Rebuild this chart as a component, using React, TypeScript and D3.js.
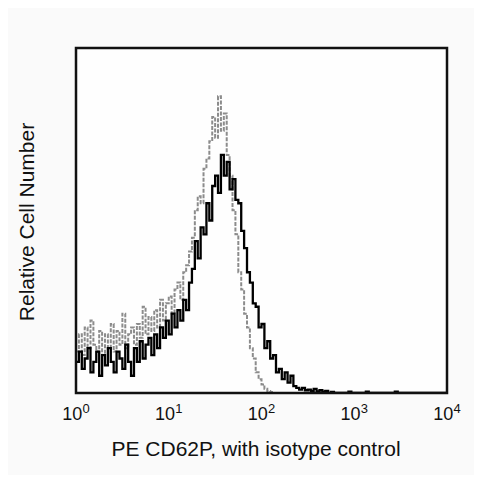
import * as d3 from "d3";

// log-spaced channels across 4 decades, counts
const CHANNELS = 128;
const DECADES = [0, 1, 2, 3, 4];

const stained = [
  9, 12, 7, 10, 13, 6, 9, 12, 5, 11, 8, 13, 9, 6, 12, 10, 7, 14, 9, 5,
  13, 9, 15, 10, 14, 16, 11, 17, 13, 19, 16, 21, 17, 23, 19, 24, 21, 27, 24, 32,
  36, 44, 39, 48, 46, 55, 50, 60, 63, 58, 69, 63, 67, 59, 62, 56, 55, 47, 42, 35,
  32, 26, 25, 19, 20, 13, 15, 10, 11, 6, 7, 4, 6, 3, 5, 2, 1.5, 1, 1.5, 0.8,
  1, 0.6, 1.2, 0.5, 0.8, 0.4, 0.6, 0, 0.3, 0, 0, 0, 0, 0, 0.4, 0, 0, 0, 0, 0,
  0.4, 0, 0, 0, 0, 0, 0, 0, 0, 0, 0.4, 0, 0, 0, 0, 0, 0, 0, 0, 0,
  0, 0, 0, 0, 0, 0, 0, 0,
];

const isotype = [
  12, 17, 11, 19, 13, 21, 14, 12, 18, 11, 17, 13, 20, 12, 18, 14, 23, 13, 17, 19,
  14, 20, 16, 25, 17, 22, 18, 24, 19, 27, 21, 26, 28, 23, 30, 32, 27, 35, 37, 41,
  45, 53, 57, 55, 65, 68, 73, 80, 74, 86, 76, 81, 69, 63, 53, 46, 35, 30, 23, 19,
  13, 10, 6, 4, 2.5, 1.2, 0.6, 0.3, 0, 0, 0, 0, 0, 0, 0, 0, 0, 0, 0, 0,
  0, 0, 0, 0, 0, 0, 0, 0, 0, 0, 0, 0, 0, 0, 0, 0, 0, 0, 0, 0,
  0, 0, 0, 0, 0, 0, 0, 0, 0, 0, 0, 0, 0, 0, 0, 0, 0, 0, 0, 0,
  0, 0, 0, 0, 0, 0, 0, 0,
];

const W = 466;
const H = 467;
const M = { left: 68, top: 40, right: 439, bottom: 385 };
const FONT = "Arial, 'Liberation Sans', Helvetica, sans-serif";

export default function App() {
  const x = d3.scaleLog().domain([1, 1e4]).range([M.left, M.right]);
  const y = d3.scaleLinear().domain([0, 100]).range([M.bottom, M.top]);

  const edge = (i: number) => Math.pow(10, (4 * i) / CHANNELS);
  const line = d3
    .line<[number, number]>()
    .x((d) => x(d[0]))
    .y((d) => y(d[1]))
    .curve(d3.curveStepAfter);

  const toPts = (vals: number[]): [number, number][] => {
    const pts: [number, number][] = vals.map((v, i) => [edge(i), v]);
    pts.push([edge(vals.length), vals[vals.length - 1]]);
    return pts;
  };

  return (
    <svg width={W} height={H} style={{ display: "block", background: "#fafafa" }}>
      <rect x={M.left} y={M.top} width={M.right - M.left} height={M.bottom - M.top} fill="#fefefe" />
      <clipPath id="plot">
        <rect x={M.left} y={M.top} width={M.right - M.left} height={M.bottom - M.top} />
      </clipPath>
      <g clipPath="url(#plot)">
        <path d={line(toPts(isotype)) ?? ""} fill="none" stroke="#8c8c8c" strokeWidth={2} strokeDasharray="4,1.5" />
        <path d={line(toPts(stained)) ?? ""} fill="none" stroke="#000" strokeWidth={2.3} />
      </g>
      <rect
        x={M.left}
        y={M.top}
        width={M.right - M.left}
        height={M.bottom - M.top}
        fill="none"
        stroke="#111"
        strokeWidth={2.5}
      />
      {DECADES.map((p) => (
        <text key={p} x={x(Math.pow(10, p))} y={412} textAnchor="middle" fill="#111" style={{ fontFamily: FONT, fontSize: 18 }}>
          10
          <tspan dy={-7} style={{ fontSize: 13 }}>
            {p}
          </tspan>
        </text>
      ))}
      <text x={248} y={448} textAnchor="middle" fill="#111" style={{ fontFamily: FONT, fontSize: 21 }}>
        PE CD62P, with isotype control
      </text>
      <text
        transform={`translate(26,214) rotate(-90)`}
        textAnchor="middle"
        fill="#111"
        style={{ fontFamily: FONT, fontSize: 21 }}
      >
        Relative Cell Number
      </text>
    </svg>
  );
}
